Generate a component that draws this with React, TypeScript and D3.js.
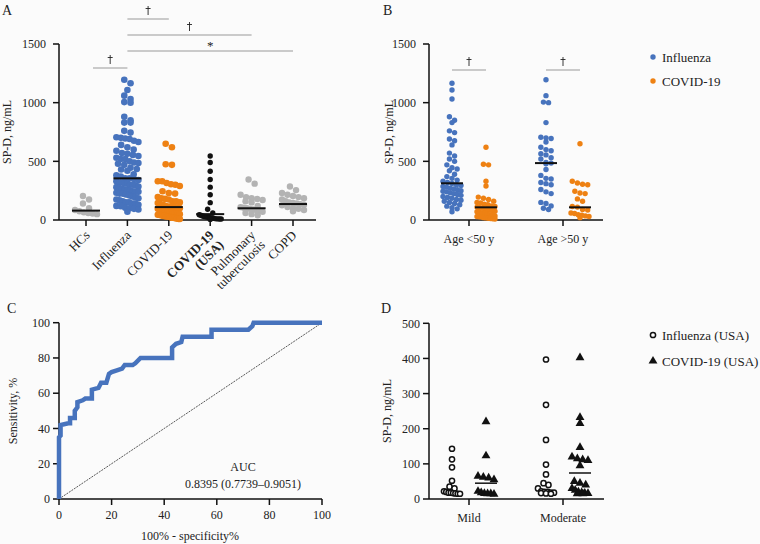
import React from "react";
import * as d3 from "d3";

// ---------- Data ----------
const catsA = ["HCs", "Influenza", "COVID-19", "COVID-19 (USA)", "Pulmonary tuberculosis", "COPD"];
const labelLinesA = [["HCs"], ["Influenza"], ["COVID-19"], ["COVID-19", "(USA)"], ["Pulmonary", "tuberculosis"], ["COPD"]];
const boldA = [false, false, false, true, false, false];

const fluUnder50 = [1165, 1108, 1031, 880, 850, 830, 760, 745, 690, 675, 640, 570, 545, 520, 500, 470, 445, 435, 420, 390, 370, 355, 340, 330, 320, 312, 300, 295, 285, 280, 272, 265, 258, 250, 245, 240, 232, 225, 218, 210, 200, 192, 185, 175, 168, 160, 150, 140, 130, 118, 105, 95, 70];
const fluOver50 = [1195, 1060, 1005, 1000, 830, 705, 700, 695, 665, 620, 600, 590, 565, 555, 530, 520, 490, 485, 480, 430, 380, 355, 350, 320, 310, 300, 260, 240, 225, 150, 140, 120, 100, 90];
const covidUnder50 = [620, 475, 470, 330, 290, 195, 185, 175, 160, 150, 145, 135, 130, 120, 115, 110, 105, 100, 95, 90, 85, 80, 75, 70, 65, 60, 55, 50, 45, 40, 35, 30, 28, 25, 20, 18, 15, 12, 10, 8];
const covidOver50 = [650, 330, 315, 300, 305, 245, 225, 230, 180, 160, 115, 110, 90, 85, 60, 55, 45, 40, 35, 30, 20];

const hcs = [205, 175, 140, 100, 85, 75, 65, 60, 55, 50];
const covidUSA = [545, 490, 415, 345, 280, 215, 148, 92, 60, 45, 40, 35, 30, 28, 25, 22, 20, 18, 15, 12, 10, 10, 8, 8, 5];
const tb = [345, 310, 215, 195, 185, 180, 170, 160, 150, 120, 110, 105, 100, 95, 90, 85, 80, 70, 60, 50, 40];
const copd = [285, 255, 230, 215, 205, 195, 185, 175, 160, 150, 145, 140, 135, 130, 125, 110, 100, 95, 85, 75];
const centerA = [80, 355, 110, 50, 100, 136];

const groupsB = ["Age <50 y", "Age >50 y"];
const centerBFlu = [313, 485];
const centerBCovid = [108, 108];

const rocFpr = [0, 0, 0.6, 0.6, 3.5, 4.2, 4.2, 6, 6, 7, 7, 9, 10, 12.5, 12.5, 15, 16, 18, 19, 20, 22, 24, 25, 28, 29, 31, 43, 43, 44.5, 46.5, 47, 58, 58, 72, 73.5, 74, 100];
const rocTpr = [0, 35, 36, 42, 43, 43, 46, 46, 50, 52, 55, 56, 57, 57, 62, 63, 66, 66, 71, 72, 73, 74, 76, 76, 77, 80, 80, 86, 88, 89, 92, 92, 96, 96, 98, 100, 100];

const groupsD = ["Mild", "Moderate"];
const dFluMild = [143, 113, 90, 52, 35, 30, 22, 20, 18, 18, 17, 16, 15, 15];
const dFluModerate = [397, 268, 168, 98, 70, 45, 40, 30, 22, 20, 20, 18, 18, 17, 16, 15];
const dCovidMild = [220, 123, 65, 62, 60, 55, 22, 18, 16, 15, 15, 14];
const dCovidModerate = [402, 232, 215, 147, 120, 115, 112, 110, 95, 50, 45, 40, 30, 25, 20, 18, 17, 16, 15, 15];
const centerDCovid = [45, 74];

const ticksAB = [0, 500, 1000, 1500];
const ticksC = [0, 20, 40, 60, 80, 100];
const ticksD = [0, 100, 200, 300, 400, 500];

// ---------- Style ----------
const BLUE = "#4773bd";
const ORANGE = "#ee8113";
const GRAY = "#b3b3b3";
const BLACK = "#111";
const TXT = "#222";
const FONT = "'Liberation Serif', 'DejaVu Serif', serif";

// column scatter: points binned into rows, spread horizontally within a capped width
function swarm(vals: number[], cx: number, y: (v: number) => number, r: number, maxHalf: number) {
  const pys = vals.map((v) => y(v)).sort((a, b) => a - b);
  const binH = 2 * r * 0.85;
  const out: { x: number; y: number }[] = [];
  let i = 0;
  while (i < pys.length) {
    let j = i;
    while (j < pys.length && pys[j] - pys[i] < binH) j++;
    const n = j - i;
    const sp = n > 1 ? Math.min(2 * r * 0.95, (2 * maxHalf) / (n - 1)) : 0;
    for (let k = 0; k < n; k++) {
      out.push({ x: cx + (k - (n - 1) / 2) * sp, y: pys[i + k] });
    }
    i = j;
  }
  return out;
}

function Dagger({ x, y }: { x: number; y: number }) {
  // y = baseline
  return (
    <g stroke={TXT} strokeWidth={0.9}>
      <line x1={x} x2={x} y1={y - 9} y2={y} />
      <line x1={x - 2.5} x2={x + 2.5} y1={y - 6.5} y2={y - 6.5} />
    </g>
  );
}

function YAxis({ scale, ticks, x, tickLen = 6, gap = 4 }: any) {
  const [r0, r1] = scale.range();
  return (
    <g>
      <line x1={x} x2={x} y1={r0} y2={r1} stroke={BLACK} strokeWidth={1.5} />
      {ticks.map((t: number) => (
        <g key={t}>
          <line x1={x - tickLen} x2={x} y1={scale(t)} y2={scale(t)} stroke={BLACK} strokeWidth={1.5} />
          <text x={x - tickLen - gap} y={scale(t)} dy="0.35em" textAnchor="end" fontSize={12} fill={TXT}>
            {t}
          </text>
        </g>
      ))}
    </g>
  );
}

export default function App() {
  // Panel A
  const yA = d3.scaleLinear([0, 1500], [220, 44]);
  const xA = d3.scalePoint<string>(catsA, [86, 293]);
  const colA = [
    { vals: hcs, color: GRAY, r: 3.2, w: 11 },
    { vals: fluUnder50.concat(fluOver50), color: BLUE, r: 3.3, w: 11 },
    { vals: covidUnder50.concat(covidOver50), color: ORANGE, r: 3.3, w: 11 },
    { vals: covidUSA, color: BLACK, r: 2.7, w: 11 },
    { vals: tb, color: GRAY, r: 3.2, w: 11 },
    { vals: copd, color: GRAY, r: 3.2, w: 11 },
  ];

  // Panel B
  const yB = d3.scaleLinear([0, 1500], [220, 44]);
  const xB = d3.scalePoint<string>(groupsB, [469, 563]);
  const subB = d3.scalePoint<string>(["flu", "covid"], [-17, 17]);
  const bFlu = [fluUnder50, fluOver50];
  const bCovid = [covidUnder50, covidOver50];

  // Panel C
  const xC = d3.scaleLinear([0, 100], [59, 322]);
  const yC = d3.scaleLinear([0, 100], [499, 322.7]);
  const rocLine = d3
    .line<number>()
    .x((_, i) => xC(rocFpr[i]))
    .y((_, i) => yC(rocTpr[i]));

  // Panel D
  const yD = d3.scaleLinear([0, 500], [499, 323.3]);
  const xD = d3.scalePoint<string>(groupsD, [469, 563]);
  const subD = d3.scalePoint<string>(["flu", "covid"], [-17, 17]);
  const dFlu = [dFluMild, dFluModerate];
  const dCovid = [dCovidMild, dCovidModerate];
  const tri = d3.symbol(d3.symbolTriangle, 34)();

  const sigA = [
    { a: 0, b: 1, y: 68, sym: "†" },
    { a: 1, b: 2, y: 19, sym: "†" },
    { a: 1, b: 4, y: 35, sym: "†" },
    { a: 1, b: 5, y: 51, sym: "*" },
  ];

  return (
    <svg
      width={760}
      height={544}
      style={{ position: "absolute", left: 0, top: 0, fontFamily: FONT }}
    >
      <rect width={760} height={544} fill="#fbfbfb" />

      {/* ---------- Panel A ---------- */}
      <text x={2} y={15} fontSize={14} fill={TXT}>A</text>
      <text transform={`translate(11,132) rotate(-90)`} textAnchor="middle" fontSize={12} fill={TXT}>SP-D, ng/mL</text>
      <YAxis scale={yA} ticks={ticksAB} x={59} gap={7} />
      <line x1={59} x2={316} y1={220} y2={220} stroke={BLACK} strokeWidth={1.5} />
      {catsA.map((c, i) => {
        const cx = xA(c)!;
        const pts = swarm(colA[i].vals, cx, yA, colA[i].r, colA[i].w);
        return (
          <g key={c}>
            <line x1={cx} x2={cx} y1={220} y2={226} stroke={BLACK} strokeWidth={1.5} />
            {pts.map((p, j) => (
              <circle key={j} cx={p.x} cy={p.y} r={colA[i].r} fill={colA[i].color} />
            ))}
            <line x1={cx - 14} x2={cx + 14} y1={yA(centerA[i])} y2={yA(centerA[i])} stroke={BLACK} strokeWidth={2} />
            <text
              transform={`translate(${cx + 4.5},236) rotate(-45)`}
              textAnchor="end"
              fontSize={13}
              fontWeight={boldA[i] ? "bold" : "normal"}
              fill={TXT}
            >
              {labelLinesA[i].map((ln, k) => (
                <tspan key={k} x={0} dy={k === 0 ? 0 : "1.05em"}>{ln}</tspan>
              ))}
            </text>
          </g>
        );
      })}
      {sigA.map((s, i) => {
        const x1 = s.a === 0 ? xA(catsA[s.a])! + 7 : xA(catsA[s.a])!;
        const x2 = xA(catsA[s.b])!;
        const mx = (x1 + x2) / 2;
        return (
          <g key={i}>
            <line x1={x1} x2={x2} y1={s.y} y2={s.y} stroke="#999" strokeWidth={1} />
            {s.sym === "*" ? (
              <text x={mx} y={s.y - 1} textAnchor="middle" fontSize={13} fill={TXT}>*</text>
            ) : (
              <Dagger x={mx} y={s.y - 4} />
            )}
          </g>
        );
      })}

      {/* ---------- Panel B ---------- */}
      <text x={383} y={15} fontSize={14} fill={TXT}>B</text>
      <text transform={`translate(393,132) rotate(-90)`} textAnchor="middle" fontSize={12} fill={TXT}>SP-D, ng/mL</text>
      <YAxis scale={yB} ticks={ticksAB} x={429} gap={7} />
      <line x1={429} x2={603} y1={220} y2={220} stroke={BLACK} strokeWidth={1.5} />
      {groupsB.map((g, i) => {
        const cx = xB(g)!;
        const fx = cx + subB("flu")!;
        const ox = cx + subB("covid")!;
        const fp = swarm(bFlu[i], fx, yB, 2.7, 9);
        const op = swarm(bCovid[i], ox, yB, 2.7, 9);
        return (
          <g key={g}>
            <line x1={cx} x2={cx} y1={220} y2={226} stroke={BLACK} strokeWidth={1.5} />
            {fp.map((p, j) => <circle key={"f" + j} cx={p.x} cy={p.y} r={2.7} fill={BLUE} />)}
            {op.map((p, j) => <circle key={"o" + j} cx={p.x} cy={p.y} r={2.7} fill={ORANGE} />)}
            <line x1={fx - 11} x2={fx + 11} y1={yB(centerBFlu[i])} y2={yB(centerBFlu[i])} stroke={BLACK} strokeWidth={2} />
            <line x1={ox - 11} x2={ox + 11} y1={yB(centerBCovid[i])} y2={yB(centerBCovid[i])} stroke={BLACK} strokeWidth={2} />
            <text x={cx} y={243} textAnchor="middle" fontSize={12} fill={TXT}>{g}</text>
            <line x1={fx} x2={ox} y1={70} y2={70} stroke="#999" strokeWidth={1} />
            <Dagger x={cx} y={66} />
          </g>
        );
      })}
      <circle cx={653} cy={57} r={2.7} fill={BLUE} />
      <text x={662} y={61.5} fontSize={13} fill={TXT}>Influenza</text>
      <circle cx={653} cy={81} r={2.7} fill={ORANGE} />
      <text x={662} y={85.5} fontSize={13} fill={TXT}>COVID-19</text>

      {/* ---------- Panel C ---------- */}
      <text x={7} y={313} fontSize={14} fill={TXT}>C</text>
      <text transform={`translate(17,411) rotate(-90)`} textAnchor="middle" fontSize={12} fill={TXT}>Sensitivity, %</text>
      <YAxis scale={yC} ticks={ticksC} x={59} gap={3} />
      <line x1={59} x2={322} y1={499} y2={499} stroke={BLACK} strokeWidth={1.5} />
      {ticksC.map((t) => (
        <g key={t}>
          <line x1={xC(t)} x2={xC(t)} y1={499} y2={505} stroke={BLACK} strokeWidth={1.5} />
          <text x={xC(t)} y={519} textAnchor="middle" fontSize={12} fill={TXT}>{t}</text>
        </g>
      ))}
      <text x={190} y={540} textAnchor="middle" fontSize={12} fill={TXT}>100% - specificity%</text>
      <line x1={xC(0)} y1={yC(0)} x2={xC(100)} y2={yC(100)} stroke={BLACK} strokeWidth={0.7} strokeDasharray="2,1" />
      <path d={rocLine(rocFpr) || ""} fill="none" stroke={BLUE} strokeWidth={4.5} strokeLinejoin="miter" />
      <text x={243} y={471} textAnchor="middle" fontSize={12} fill={TXT}>AUC</text>
      <text x={243} y={488} textAnchor="middle" fontSize={12} fill={TXT}>0.8395 (0.7739–0.9051)</text>

      {/* ---------- Panel D ---------- */}
      <text x={381} y={313} fontSize={14} fill={TXT}>D</text>
      <text transform={`translate(391,411) rotate(-90)`} textAnchor="middle" fontSize={12} fill={TXT}>SP-D, ng/mL</text>
      <YAxis scale={yD} ticks={ticksD} x={429} gap={3} />
      <line x1={429} x2={604} y1={499} y2={499} stroke={BLACK} strokeWidth={1.5} />
      {groupsD.map((g, i) => {
        const cx = xD(g)!;
        const fx = cx + subD("flu")!;
        const ox = cx + subD("covid")!;
        const fp = swarm(dFlu[i], fx, yD, 2.6, 8);
        const op = swarm(dCovid[i], ox, yD, 3, 8);
        return (
          <g key={g}>
            <line x1={cx} x2={cx} y1={499} y2={505} stroke={BLACK} strokeWidth={1.5} />
            {fp.map((p, j) => (
              <circle key={"f" + j} cx={p.x} cy={p.y} r={2.6} fill="#fff" stroke={BLACK} strokeWidth={1.5} />
            ))}
            {op.map((p, j) => (
              <path key={"o" + j} d={tri || ""} transform={`translate(${p.x},${p.y})`} fill={BLACK} />
            ))}
            <line x1={ox - 11} x2={ox + 11} y1={yD(centerDCovid[i])} y2={yD(centerDCovid[i])} stroke={BLACK} strokeWidth={1.5} />
            <text x={cx} y={522} textAnchor="middle" fontSize={12} fill={TXT}>{g}</text>
          </g>
        );
      })}
      <circle cx={653} cy={335} r={2.6} fill="#fff" stroke={BLACK} strokeWidth={1.5} />
      <text x={662} y={339.5} fontSize={13} fill={TXT}>Influenza (USA)</text>
      <path d={tri || ""} transform="translate(653,361)" fill={BLACK} />
      <text x={662} y={365.5} fontSize={13} fill={TXT}>COVID-19 (USA)</text>
    </svg>
  );
}
